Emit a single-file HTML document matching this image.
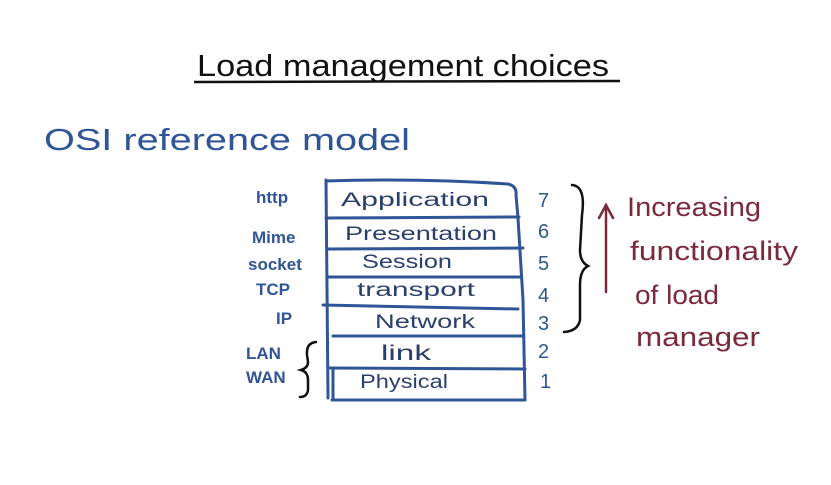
<!DOCTYPE html>
<html><head><style>
html,body{margin:0;padding:0;background:#fff}
svg{display:block}
text{font-family:"Liberation Sans",sans-serif}
</style></head><body>
<svg width="831" height="485" viewBox="0 0 831 485" xmlns="http://www.w3.org/2000/svg">
<g fill="#111">
<text x="197" y="76" font-size="31" textLength="412" lengthAdjust="spacingAndGlyphs">Load management choices</text>
</g>
<line x1="194" y1="82" x2="620" y2="81" stroke="#111" stroke-width="2.5"/>
<g fill="#2f5597">
<text x="44" y="150" font-size="31" textLength="366" lengthAdjust="spacingAndGlyphs">OSI reference model</text>
<g font-size="17" font-weight="bold">
<text x="256" y="203">http</text>
<text x="252" y="243">Mime</text>
<text x="248" y="270">socket</text>
<text x="256" y="295">TCP</text>
<text x="276" y="324">IP</text>
<text x="246" y="359">LAN</text>
<text x="246" y="383">WAN</text>
</g>
<g font-size="19" fill="#2a3f6e">
<text x="341" y="206" textLength="148" lengthAdjust="spacingAndGlyphs">Application</text>
<text x="345" y="240" textLength="152" lengthAdjust="spacingAndGlyphs">Presentation</text>
<text x="362" y="268" textLength="90" lengthAdjust="spacingAndGlyphs">Session</text>
<text x="357" y="296" textLength="118" lengthAdjust="spacingAndGlyphs">transport</text>
<text x="375" y="328" textLength="100" lengthAdjust="spacingAndGlyphs">Network</text>
<text x="381" y="360" font-size="21" textLength="50" lengthAdjust="spacingAndGlyphs">link</text>
<text x="360" y="388" textLength="88" lengthAdjust="spacingAndGlyphs">Physical</text>
</g>
<g font-size="20">
<text x="538" y="207">7</text>
<text x="538" y="238">6</text>
<text x="538" y="270">5</text>
<text x="538" y="302">4</text>
<text x="538" y="330">3</text>
<text x="538" y="358">2</text>
<text x="540" y="388">1</text>
</g>
</g>
<g stroke="#2f5597" stroke-width="3" fill="none" stroke-linecap="round">
<path d="M326 180 L328 398 M333 370 L333 400"/>
<path d="M326 181 Q420 178 508 184 Q517 186 516 195 L518 218 L523 300 L525 400"/>
<line x1="326" y1="218" x2="519" y2="217"/>
<line x1="327" y1="249" x2="523" y2="248"/>
<line x1="327" y1="277" x2="521" y2="277"/>
<line x1="323" y1="305" x2="518" y2="309"/>
<line x1="333" y1="336" x2="522" y2="336"/>
<line x1="330" y1="368" x2="525" y2="369"/>
<line x1="332" y1="400" x2="525" y2="400"/>
</g>
<g stroke="#111" stroke-width="2.5" fill="none" stroke-linecap="round">
<path d="M572 185 Q586 186 582 215 L580 250 Q580 262 588 266 Q580 270 580 285 L580 320 Q578 331 564 332"/>
<path d="M316 342 Q306 343 307 355 L308 362 Q308 368 301 370 Q308 372 308 380 L308 390 Q307 397 300 397"/>
</g>
<g stroke="#7a2a3a" stroke-width="2.5" fill="none" stroke-linecap="round">
<line x1="606" y1="292" x2="606" y2="206"/>
<path d="M599 218 L606 205 L613 218"/>
</g>
<g fill="#7a2a3a" font-size="27">
<text x="627" y="216" textLength="134" lengthAdjust="spacingAndGlyphs">Increasing</text>
<text x="630" y="260" textLength="168" lengthAdjust="spacingAndGlyphs">functionality</text>
<text x="635" y="304" textLength="84" lengthAdjust="spacingAndGlyphs">of load</text>
<text x="636" y="346" textLength="124" lengthAdjust="spacingAndGlyphs">manager</text>
</g>
</svg>
</body></html>
